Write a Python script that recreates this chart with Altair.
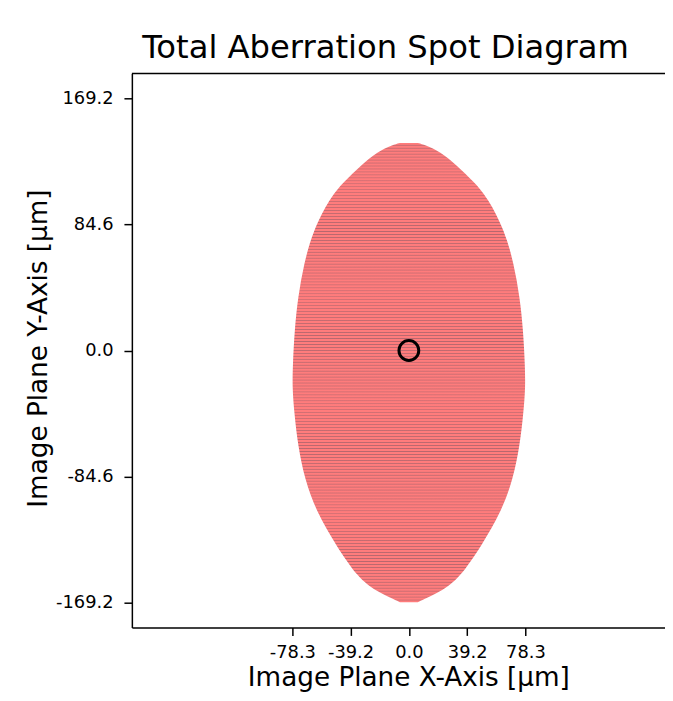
import altair as alt
import pandas as pd

# ---- values ----
# outline of the spot (image-plane y, left x edge, right x edge), in micrometres
outline_y = [139.5, 138.0, 133.6, 124.7, 113.0, 102.5, 80.3, 58.3, 35.9, 13.7, -10.0, -25.0,
             -41.7, -64.0, -86.3, -108.5, -130.8, -153.0, -161.7, -166.3, -169.2]
outline_left = [-6.0, -11.0, -21.0, -32.0, -44.0, -53.0, -64.5, -70.5, -74.5, -76.8, -78.0, -78.3,
                -77.0, -74.5, -70.0, -62.0, -49.0, -34.0, -22.0, -12.0, -6.0]
outline_right = [6.0, 11.0, 21.0, 32.0, 44.0, 53.0, 64.5, 70.5, 74.5, 76.8, 78.0, 78.3,
                 77.0, 74.5, 70.0, 62.0, 49.0, 34.0, 22.0, 12.0, 6.0]

# reference point marked with the black ring
center_x = [0.0]
center_y = [0.0]

x_ticks = [-78.3, -39.2, 0.0, 39.2, 78.3]
y_ticks = [-169.2, -84.6, 0.0, 84.6, 169.2]
x_domain = [-186.12, 172.1]
y_domain = [-186.12, 186.12]

spot = pd.DataFrame({"y": outline_y, "xl": outline_left, "xr": outline_right})
ctr = pd.DataFrame({"x": center_x, "y": center_y})

# striped fill (texture of the densely packed ray rows): 3 px period
RED = "#ff7c7c"
DARK = "#b7676e"
BOX_PX = (139.5 + 169.2) * 559 / 372.24
P = 3.0 / BOX_PX
stops = []
k = 0
while (k + 1) * P <= 1.0:
    o = k * P
    stops += [
        alt.GradientStop(offset=round(o, 6), color=RED),
        alt.GradientStop(offset=round(o + 0.5 * P, 6), color=RED),
        alt.GradientStop(offset=round(o + 0.8 * P, 6), color=DARK),
        alt.GradientStop(offset=round(o + P, 6), color=RED),
    ]
    k += 1
stops.append(alt.GradientStop(offset=1.0, color=RED))
fill = alt.LinearGradient(gradient="linear", stops=stops, x1=0, x2=0, y1=0, y2=1)

xs = alt.Scale(domain=x_domain, nice=False, zero=False)
ys = alt.Scale(domain=y_domain, nice=False, zero=False)

MINUS = "\u2212"
label_expr = "replace(format(datum.value, '.1f'), '" + MINUS + "', '-')"

x_axis = alt.Axis(values=x_ticks, labelExpr=label_expr, title="Image Plane X-Axis [μm]",
                  ticks=True, labelPadding=8, labelFlush=False,
                  titleBaseline="alphabetic", titleAlign="center", titleX=279, titleY=59)
y_axis = alt.Axis(values=y_ticks, labelExpr=label_expr, title="Image Plane Y-Axis [μm]",
                  ticks=True, labelPadding=11, labelFlush=False,
                  titleBaseline="alphabetic", titleAlign="center", titleAngle=-90,
                  titleX=-86, titleY=277)

area = alt.Chart(spot).mark_area(
    orient="horizontal", interpolate="basis", color=fill, clip=True
).encode(
    y=alt.Y("y:Q", scale=ys, axis=y_axis),
    x=alt.X("xl:Q", scale=xs, axis=x_axis),
    x2="xr:Q",
)

circle = alt.Chart(ctr).mark_point(
    shape="circle", size=400, filled=False, color="black", strokeWidth=3, opacity=1
).encode(
    x=alt.X("x:Q", scale=xs),
    y=alt.Y("y:Q", scale=ys),
)

top_border = alt.Chart(ctr).mark_rule(color="black", strokeWidth=1.5).encode(
    y=alt.value(0), x=alt.value(0), x2=alt.value(538)
)

chart = (
    alt.layer(area, circle, top_border)
    .properties(
        width=538,
        height=559,
        autosize="none",
        padding={"left": 125, "top": 63, "right": 0, "bottom": 64},
        title=alt.Title("Total Aberration Spot Diagram", dx=-13, offset=8),
    )
    .configure_view(stroke=None)
    .configure_axis(
        grid=False,
        domainColor="black",
        domainWidth=1.5,
        tickColor="black",
        tickWidth=1.5,
        tickSize=8,
        labelFont="DejaVu Sans",
        labelFontSize=18,
        labelColor="black",
        titleFont="DejaVu Sans",
        titleFontSize=26.5,
        titleFontWeight="normal",
        titleColor="black",
    )
    .configure_title(font="DejaVu Sans", fontSize=32.5, fontWeight="normal", color="black")
)

chart.save("out.html", embed_options={"renderer": "svg", "actions": False})
